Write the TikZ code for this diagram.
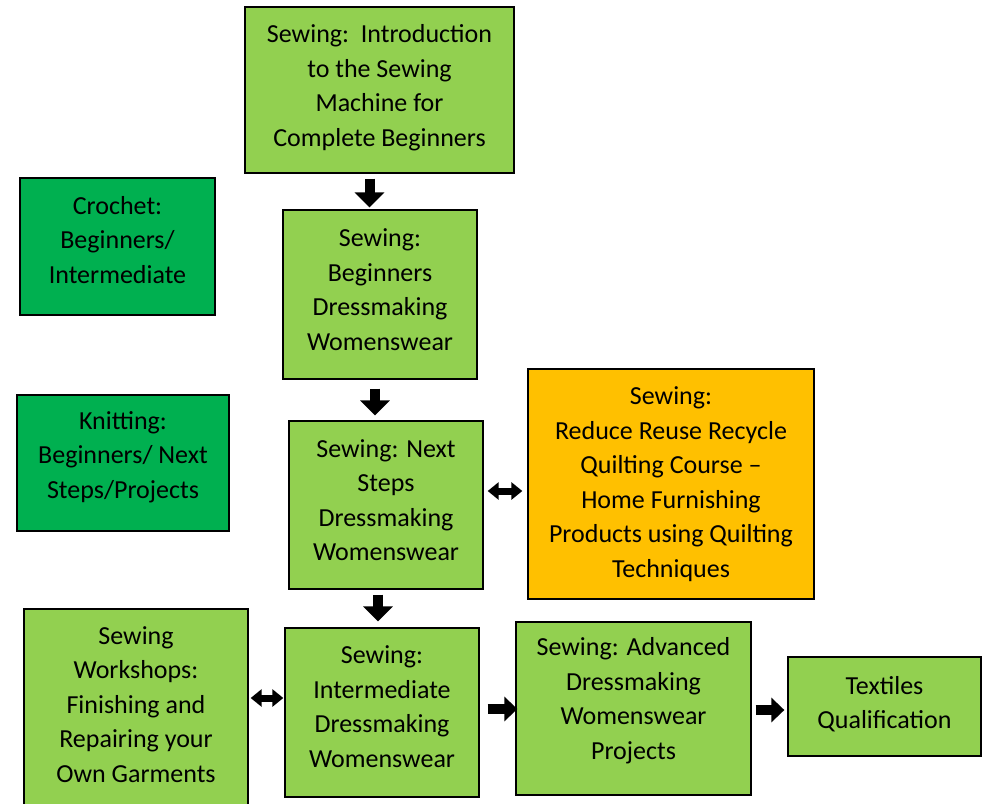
\documentclass[tikz,border=0pt]{standalone}
\usepackage{fontspec}
\setmainfont{Carlito}
\usetikzlibrary{arrows.meta}
\definecolor{lg}{HTML}{92D050}
\definecolor{dg}{HTML}{00B050}
\definecolor{og}{HTML}{FFC000}
\tikzset{
  box/.style={draw=black, line width=1.3pt, fill=lg, inner sep=0pt, align=center,
    font=\fontsize{26}{34.5}\selectfont},
  big/.style={line width=10pt, -{Triangle[length=15pt,width=29pt]}},
  mid/.style={line width=10pt, -{Triangle[length=13pt,width=24pt]}},
  small/.style={line width=7pt, {Triangle[length=11pt,width=17pt]}-{Triangle[length=11pt,width=17pt]}},
}
\begin{document}
\begin{tikzpicture}[x=1pt,y=-1pt]
\useasboundingbox (0,0) rectangle (982,803);
\clip (0,0) rectangle (982,803);
\node[box, text depth=9pt, minimum width=269pt, minimum height=166pt] (intro) at (379.5,90)
  {Sewing:\ \ Introduction\\to the Sewing\\Machine for\\Complete Beginners};
\node[box, text depth=14pt, fill=dg, minimum width=195pt, minimum height=137pt] (croch) at (117.5,246.5)
  {Crochet:\\Beginners/\\Intermediate};
\node[box, text depth=10pt, minimum width=194pt, minimum height=169pt] (begin) at (380,294.5)
  {Sewing:\\Beginners\\Dressmaking\\Womenswear};
\node[box, text depth=16pt, fill=dg, minimum width=212pt, minimum height=136pt] (knit) at (123,463)
  {Knitting:\\Beginners/ Next\\Steps/Projects};
\node[box, text depth=10pt, minimum width=194pt, minimum height=168pt] (next) at (386,505)
  {Sewing: Next\\Steps\\Dressmaking\\Womenswear};
\node[box, fill=og, minimum width=286pt, minimum height=230pt] (reduce) at (671,484)
  {Sewing:\\Reduce Reuse Recycle\\Quilting Course --\\Home Furnishing\\Products using Quilting\\Techniques};
\node[box, text depth=7pt, minimum width=224pt, minimum height=198pt] (work) at (136,708)
  {Sewing\\Workshops:\\Finishing and\\Repairing your\\Own Garments};
\node[box, text depth=12pt, minimum width=194pt, minimum height=169pt] (inter) at (382,712.5)
  {Sewing:\\Intermediate\\Dressmaking\\Womenswear};
\node[box, text depth=20pt, minimum width=235pt, minimum height=173pt] (adv) at (633.5,708.5)
  {Sewing: Advanced\\Dressmaking\\Womenswear\\Projects};
\node[box, text depth=8pt, minimum width=193pt, minimum height=99pt] (text) at (884.5,706.5)
  {Textiles\\Qualification};
% arrows (xshift/yshift are page shifts: positive yshift moves up)
\draw[big] ([xshift=-10pt,yshift=-5pt]intro.south) -- ([xshift=-10pt,yshift=2pt]intro.south |- begin.north);
\draw[big] ([xshift=-5pt,yshift=-9pt]begin.south) -- ([xshift=-5pt,yshift=5pt]begin.south |- next.north);
\draw[big] ([xshift=-8pt,yshift=-5pt]next.south) -- ([xshift=-8pt,yshift=6pt]next.south |- inter.north);
\draw[small] ([xshift=4pt,yshift=14pt]next.east) -- ([xshift=-5pt,yshift=14pt]next.east -| reduce.west);
\draw[small] ([xshift=2pt,yshift=14.5pt]work.east |- inter.east) -- ([xshift=-1pt,yshift=14.5pt]inter.west);
\draw[mid] ([xshift=8pt,yshift=3.5pt]inter.east) -- ([xshift=2pt,yshift=3.5pt]inter.east -| adv.west);
\draw[mid] ([xshift=4pt,yshift=-3.5pt]adv.east |- text.west) -- ([xshift=-3pt,yshift=-3.5pt]text.west);
\end{tikzpicture}
\end{document}
